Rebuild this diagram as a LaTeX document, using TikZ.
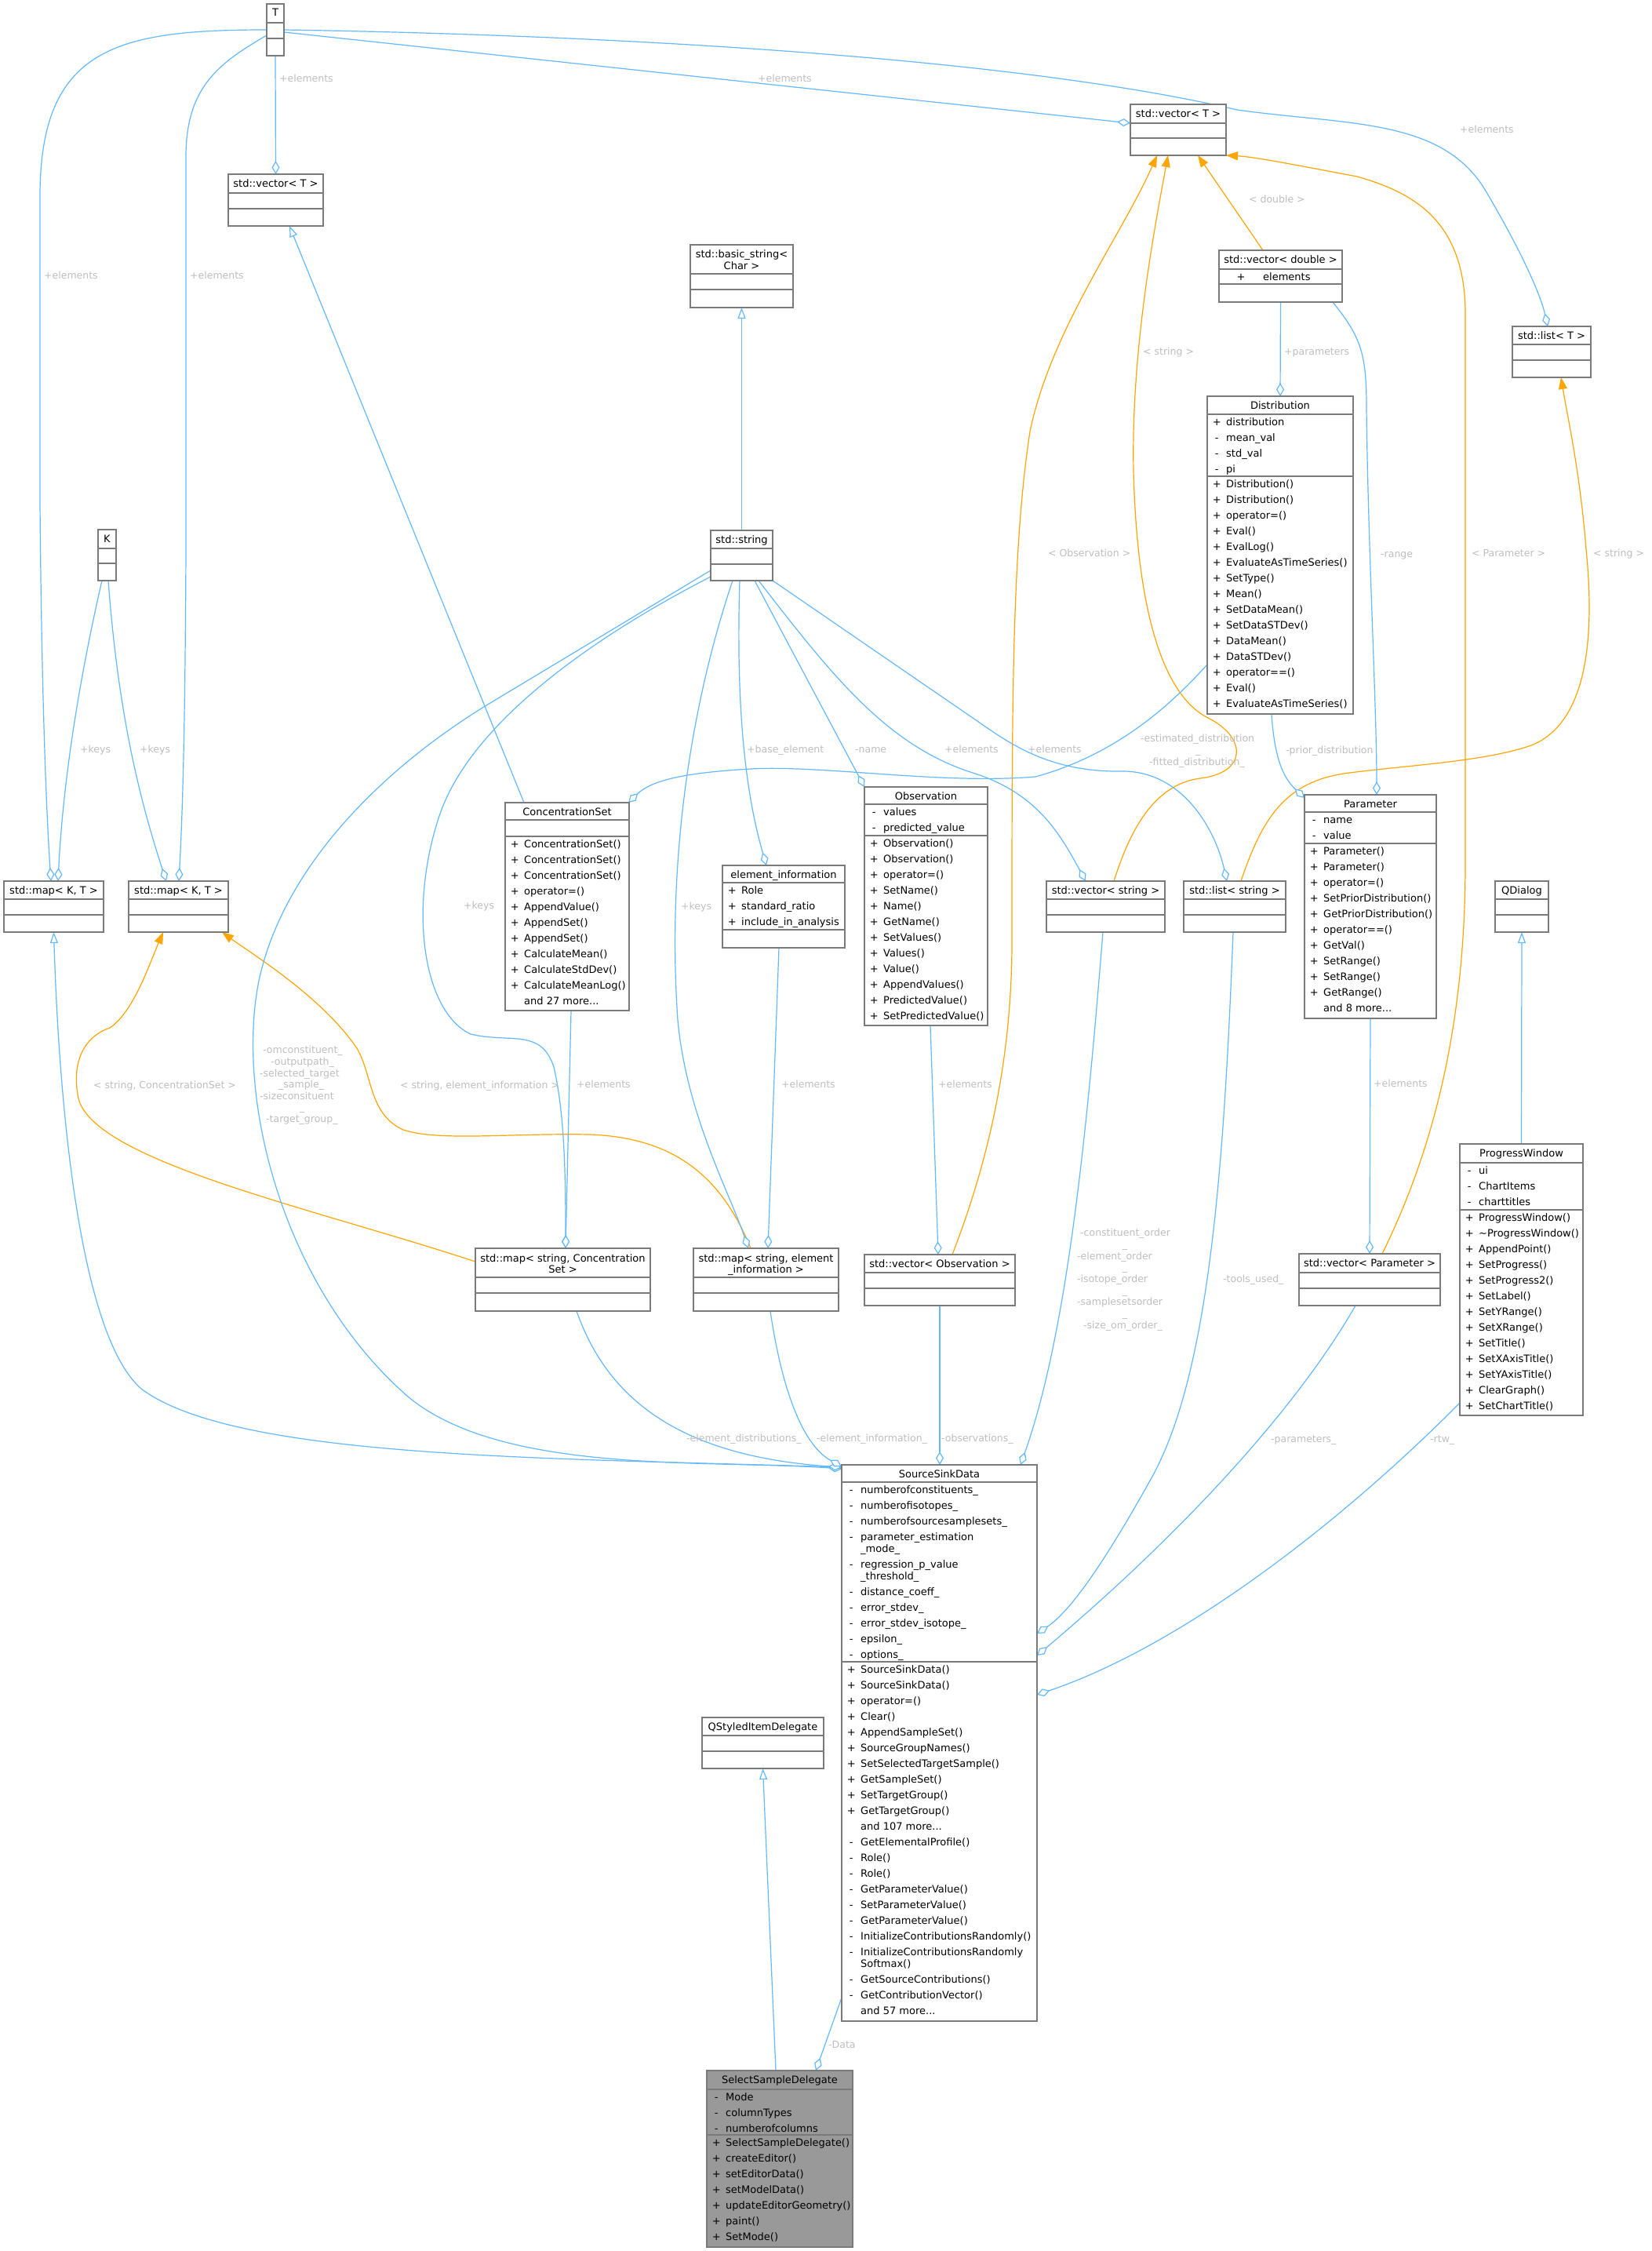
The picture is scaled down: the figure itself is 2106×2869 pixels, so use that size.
\documentclass[tikz,border=0pt]{standalone}
\usepackage{fontspec}
\setmainfont{DejaVu Sans}
\usetikzlibrary{arrows.meta,calc}
\pgfdeclarelayer{bg}
\pgfdeclarelayer{edges}
\pgfsetlayers{bg,edges,main}
\definecolor{eblue}{HTML}{63B8FF}
\definecolor{eorange}{HTML}{FFA500}
\definecolor{bgray}{HTML}{7A7A7A}
\definecolor{lgray}{HTML}{BEBEBE}
\definecolor{selfill}{HTML}{999999}
\tikzset{
  ubx/.style={draw=bgray, line width=1.5pt, fill=white, inner sep=0pt, outer sep=0pt},
  usep/.style={draw=bgray, line width=1.3pt},
  ttl/.style={font=\fontsize{13}{15}\selectfont, inner sep=0pt},
  mbx/.style={font=\fontsize{13}{20}\selectfont, inner sep=0pt, anchor=north west},
  lbl/.style={font=\fontsize{12.5}{15}\selectfont, text=lgray, inner sep=0pt},
  agg/.style={draw=eblue, line width=1.2pt, -{Diamond[fill=white, length=17pt, width=10pt]}},
  inh/.style={draw=eblue, line width=1.2pt, -{Triangle[fill=white, length=14pt, width=10pt]}},
  tpl/.style={draw=eorange, line width=1.2pt, -{Triangle[length=15pt, width=11pt]}}
}
\newcounter{lab}
\newcommand{\ubox}[9][]{%
  \node[ubx,#1,anchor=north west,minimum width={#5pt-#3pt},minimum height={#6pt-#4pt}] (#2) at (#3,#4) {};
  \draw[usep] (#3,#7) -- (#5,#7) (#3,#8) -- (#5,#8);
  \node[ttl,anchor=base] (#2-t) at ({(#3+#5)/2},{#4+16}) {#9};
}
\newcommand{\sg}[1]{\makebox[12pt][c]{#1}\hspace{6pt}}
\newcommand{\nsg}{\hspace{18pt}}
\newcommand{\mem}[3]{\stepcounter{lab}\node[mbx] (mem\arabic{lab}) at (#1,#2) {\begin{tabular}{@{}l@{}}#3\end{tabular}};}
\newcommand{\lb}[3]{\stepcounter{lab}\node[lbl,anchor=base west] (lab\arabic{lab}) at (#1,{#2+4.5}) {#3};}
\newcommand{\lc}[3]{\stepcounter{lab}\node[lbl,anchor=base] (lab\arabic{lab}) at (#1,{#2+4.5}) {#3};}
\begin{document}
\begin{tikzpicture}[x=1pt,y=-1pt]
\begin{pgfonlayer}{bg}
\fill[white] (0,0) rectangle (2106,2869);
\end{pgfonlayer}
\useasboundingbox (0,0) rectangle (2106,2869);

% ---------- classes ----------
\ubox{T}{340}{5}{362}{71}{29}{49}{T}
\ubox{K}{125}{675}{148}{740}{699}{718}{K}
\ubox{vecTL}{291}{222}{412}{288}{246}{266}{std::vector< T >}
\ubox{bstr}{880}{312}{1011}{392}{349}{369}{}
\node[ttl,anchor=base] (bstr-a) at (945.5,328) {std::basic\_string<};
\node[ttl,anchor=base] (bstr-b) at (945.5,343) {Char >};
\ubox{vecTR}{1441}{133}{1563}{198}{157}{176}{std::vector< T >}
\ubox{vecD}{1554}{319}{1711}{385}{343}{362}{std::vector< double >}
\node[mbx,anchor=base] (vecD-p) at (1582,357) {+};
\node[mbx,anchor=base west] (vecD-e) at (1610,357) {elements};
\ubox{listT}{1928}{416}{2028}{481}{439}{459}{std::list< T >}
\ubox{dist}{1539}{505}{1725}{910}{528}{607}{Distribution}
\mem{1545}{528}{\sg{+}distribution\\\sg{-}mean\_val\\\sg{-}std\_val\\\sg{-}pi}
\mem{1545}{607}{\sg{+}Distribution()\\\sg{+}Distribution()\\\sg{+}operator=()\\\sg{+}Eval()\\\sg{+}EvalLog()\\\sg{+}EvaluateAsTimeSeries()\\\sg{+}SetType()\\\sg{+}Mean()\\\sg{+}SetDataMean()\\\sg{+}SetDataSTDev()\\\sg{+}DataMean()\\\sg{+}DataSTDev()\\\sg{+}operator==()\\\sg{+}Eval()\\\sg{+}EvaluateAsTimeSeries()}
\ubox{str}{906}{676}{985}{740}{699}{719}{std::string}
\ubox{cset}{644}{1023}{802}{1288}{1045}{1066}{ConcentrationSet}
\mem{650}{1066}{\sg{+}ConcentrationSet()\\\sg{+}ConcentrationSet()\\\sg{+}ConcentrationSet()\\\sg{+}operator=()\\\sg{+}AppendValue()\\\sg{+}AppendSet()\\\sg{+}AppendSet()\\\sg{+}CalculateMean()\\\sg{+}CalculateStdDev()\\\sg{+}CalculateMeanLog()\\\nsg and 27 more...}
\ubox{einfo}{921}{1103}{1077}{1208}{1125}{1185}{element\_information}
\mem{927}{1125}{\sg{+}Role\\\sg{+}standard\_ratio\\\sg{+}include\_in\_analysis}
\ubox{obs}{1102}{1003}{1259}{1307}{1025}{1065}{Observation}
\mem{1108}{1025}{\sg{-}values\\\sg{-}predicted\_value}
\mem{1108}{1065}{\sg{+}Observation()\\\sg{+}Observation()\\\sg{+}operator=()\\\sg{+}SetName()\\\sg{+}Name()\\\sg{+}GetName()\\\sg{+}SetValues()\\\sg{+}Values()\\\sg{+}Value()\\\sg{+}AppendValues()\\\sg{+}PredictedValue()\\\sg{+}SetPredictedValue()}
\ubox{vecS}{1334}{1123}{1485}{1188}{1146}{1166}{std::vector< string >}
\ubox{listS}{1509}{1123}{1639}{1188}{1146}{1166}{std::list< string >}
\ubox{param}{1663}{1013}{1831}{1298}{1035}{1075}{Parameter}
\mem{1669}{1035}{\sg{-}name\\\sg{-}value}
\mem{1669}{1075}{\sg{+}Parameter()\\\sg{+}Parameter()\\\sg{+}operator=()\\\sg{+}SetPriorDistribution()\\\sg{+}GetPriorDistribution()\\\sg{+}operator==()\\\sg{+}GetVal()\\\sg{+}SetRange()\\\sg{+}SetRange()\\\sg{+}GetRange()\\\nsg and 8 more...}
\ubox{qdlg}{1906}{1123}{1974}{1188}{1146}{1166}{QDialog}
\ubox{mapL}{5}{1123}{132}{1188}{1146}{1166}{std::map< K, T >}
\ubox{mapR}{164}{1123}{291}{1188}{1146}{1166}{std::map< K, T >}
\ubox{mapSCS}{606}{1591}{829}{1671}{1628}{1648}{}
\node[ttl,anchor=base] (mapSCS-a) at (717.5,1608) {std::map< string, Concentration};
\node[ttl,anchor=base] (mapSCS-b) at (717.5,1622) {Set >};
\ubox{mapSEI}{884}{1591}{1069}{1671}{1628}{1648}{}
\node[ttl,anchor=base] (mapSEI-a) at (976.5,1608) {std::map< string, element};
\node[ttl,anchor=base] (mapSEI-b) at (976.5,1622) {\_information >};
\ubox{vecObs}{1102}{1599}{1294}{1664}{1622}{1642}{std::vector< Observation >}
\ubox{vecP}{1656}{1598}{1836}{1664}{1622}{1642}{std::vector< Parameter >}
\ubox{pw}{1861}{1458}{2018}{1804}{1482}{1542}{ProgressWindow}
\mem{1867}{1482}{\sg{-}ui\\\sg{-}ChartItems\\\sg{-}charttitles}
\mem{1867}{1542}{\sg{+}ProgressWindow()\\\sg{+}\textasciitilde ProgressWindow()\\\sg{+}AppendPoint()\\\sg{+}SetProgress()\\\sg{+}SetProgress2()\\\sg{+}SetLabel()\\\sg{+}SetYRange()\\\sg{+}SetXRange()\\\sg{+}SetTitle()\\\sg{+}SetXAxisTitle()\\\sg{+}SetYAxisTitle()\\\sg{+}ClearGraph()\\\sg{+}SetChartTitle()}
\ubox{ssd}{1073}{1867}{1322}{2576}{1889}{2118}{SourceSinkData}
\mem{1079}{1889}{\sg{-}numberofconstituents\_\\\sg{-}numberofisotopes\_\\\sg{-}numberofsourcesamplesets\_\\\sg{-}parameter\_estimation\\[-5pt]\nsg\_mode\_\\\sg{-}regression\_p\_value\\[-5pt]\nsg\_threshold\_\\\sg{-}distance\_coeff\_\\\sg{-}error\_stdev\_\\\sg{-}error\_stdev\_isotope\_\\\sg{-}epsilon\_\\\sg{-}options\_}
\mem{1079}{2118}{\sg{+}SourceSinkData()\\\sg{+}SourceSinkData()\\\sg{+}operator=()\\\sg{+}Clear()\\\sg{+}AppendSampleSet()\\\sg{+}SourceGroupNames()\\\sg{+}SetSelectedTargetSample()\\\sg{+}GetSampleSet()\\\sg{+}SetTargetGroup()\\\sg{+}GetTargetGroup()\\\nsg and 107 more...\\\sg{-}GetElementalProfile()\\\sg{-}Role()\\\sg{-}Role()\\\sg{-}GetParameterValue()\\\sg{-}SetParameterValue()\\\sg{-}GetParameterValue()\\\sg{-}InitializeContributionsRandomly()\\\sg{-}InitializeContributionsRandomly\\[-5pt]\nsg Softmax()\\\sg{-}GetSourceContributions()\\\sg{-}GetContributionVector()\\\nsg and 57 more...}
\ubox{qsid}{895}{2189}{1050}{2254}{2212}{2232}{QStyledItemDelegate}
\ubox[fill=selfill]{sel}{901}{2639}{1087}{2864}{2663}{2721}{SelectSampleDelegate}
\mem{907}{2663}{\sg{-}Mode\\\sg{-}columnTypes\\\sg{-}numberofcolumns}
\mem{907}{2721}{\sg{+}SelectSampleDelegate()\\\sg{+}createEditor()\\\sg{+}setEditorData()\\\sg{+}setModelData()\\\sg{+}updateEditorGeometry()\\\sg{+}paint()\\\sg{+}SetMode()}

% ---------- connectors ----------
\begin{pgfonlayer}{edges}
% from T
\draw[agg] (T.south) -- (vecTL.north);
\draw[agg] (T.west) .. controls (150,38) and (51,60) .. (51,250) -- (51,640) .. controls (53,900) and (60,1050) .. ($(mapL.north west)+(60,0)$);
\draw[agg] ($(T.north west)+(0,40)$) .. controls (280,80) and (237,110) .. (237,200) -- (237,700) .. controls (236,950) and (232,1050) .. ($(mapR.north west)+(64,0)$);
\draw[agg] ($(T.north east)+(0,36)$) -- ($(vecTR.north west)+(0,24)$);
\draw[agg] ($(T.north east)+(0,33)$) .. controls (800,45) and (1300,75) .. (1577,140) .. controls (1720,160) and (1840,150) .. (1895,245) .. controls (1945,330) and (1965,380) .. ($(listT.north west)+(45,0)$);
% from K
\draw[agg] ($(K.north west)+(5,65)$) .. controls (100,870) and (80,1000) .. ($(mapL.north west)+(69,0)$);
\draw[agg] ($(K.north west)+(13,65)$) .. controls (150,900) and (175,1010) .. ($(mapR.north west)+(48,0)$);
% inheritance
\draw[inh] ($(cset.north west)+(24,0)$) -- ($(vecTL.north west)+(78,66)$);
\draw[inh] (str.north) -- (bstr.south);
\draw[inh] (pw.north) -- (qdlg.south);
\draw[inh] ($(sel.north west)+(88,0)$) -- (qsid.south);
\draw[inh] ($(ssd.north west)+(0,3)$) .. controls (700,1858) and (300,1860) .. (180,1770) .. controls (100,1700) and (75,1400) .. (mapL.south);
% template instantiations
\draw[tpl] ($(vecD.north west)+(56,0)$) -- ($(vecTR.north west)+(86,65)$);
\draw[tpl] ($(vecS.north west)+(86,0)$) .. controls (1440,1060) and (1470,1000) .. (1530,992) .. controls (1590,985) and (1590,940) .. (1540,915) .. controls (1490,890) and (1450,800) .. (1445,600) .. controls (1442,450) and (1470,300) .. ($(vecTR.north west)+(48,65)$);
\draw[tpl] ($(vecObs.north west)+(112,0)$) .. controls (1260,1480) and (1290,1350) .. (1290,1200) .. controls (1290,900) and (1290,700) .. (1313,550) .. controls (1340,420) and (1430,300) .. ($(vecTR.north west)+(34,65)$);
\draw[tpl] ($(vecP.north west)+(106,0)$) .. controls (1830,1460) and (1868,1300) .. (1868,1100) -- (1868,400) .. controls (1868,280) and (1800,245) .. (1730,225) .. controls (1650,210) and (1600,200) .. (vecTR.south east);
\draw[tpl] ($(listS.north west)+(73,0)$) .. controls (1610,1040) and (1640,995) .. (1720,985) .. controls (1800,975) and (1895,970) .. (1952,950) .. controls (2028,920) and (2032,800) .. (2022,700) .. controls (2014,600) and (1998,530) .. ($(listT.north west)+(62,65)$);
\draw[tpl] ($(mapSCS.north west)+(0,17)$) .. controls (400,1540) and (120,1480) .. (100,1400) .. controls (90,1350) and (110,1320) .. (140,1310) .. controls (170,1290) and (190,1230) .. ($(mapR.north west)+(44,65)$);
\draw[tpl] ($(mapSEI.north west)+(73,0)$) .. controls (920,1500) and (860,1450) .. (752,1446) .. controls (650,1444) and (560,1455) .. (514,1440) .. controls (470,1420) and (475,1370) .. (455,1336) .. controls (410,1270) and (320,1215) .. ($(mapR.north west)+(119,65)$);
% aggregations
\draw[agg] (vecD.south) -- (dist.north);
\draw[agg] ($(vecD.north west)+(145,66)$) .. controls (1735,430) and (1742,450) .. (1742,520) .. controls (1744,700) and (1755,900) .. ($(param.north west)+(92,0)$);
\draw[agg] ($(dist.north west)+(82,405)$) .. controls (1625,975) and (1640,995) .. ($(param.north west)+(0,4)$);
\draw[agg] ($(dist.north west)+(0,342)$) .. controls (1500,890) and (1430,960) .. (1320,990) .. controls (1200,1000) and (1050,975) .. (957,980) .. controls (870,985) and (830,995) .. ($(cset.north west)+(157,0)$);
\draw[agg] ($(str.north west)+(37,64)$) .. controls (938,900) and (950,1010) .. ($(einfo.north west)+(56,0)$);
\draw[agg] ($(str.north west)+(56,64)$) -- (obs.north west);
\draw[agg] ($(str.north west)+(61,64)$) .. controls (1060,860) and (1130,950) .. (1240,985) .. controls (1320,1010) and (1350,1060) .. ($(vecS.north west)+(50,0)$);
\draw[agg] (str.south east) -- (1243,917) .. controls (1290,950) and (1340,985) .. (1434,983) .. controls (1510,985) and (1550,1060) .. ($(listS.north west)+(55,0)$);
\draw[agg] ($(str.north west)+(0,59)$) .. controls (760,810) and (600,920) .. (560,1040) .. controls (520,1160) and (540,1290) .. (600,1318) .. controls (650,1330) and (690,1310) .. (706,1360) .. controls (720,1420) and (721,1500) .. ($(mapSCS.north west)+(115,0)$);
\draw[agg] ($(str.north west)+(28,64)$) .. controls (880,900) and (850,1100) .. (864,1300) .. controls (875,1420) and (930,1520) .. ($(mapSEI.north west)+(70,0)$);
\draw[agg] ($(str.north west)+(0,51)$) -- (620,899) .. controls (480,985) and (360,1110) .. (330,1250) .. controls (300,1400) and (360,1640) .. (520,1780) .. controls (640,1880) and (900,1860) .. ($(ssd.north west)+(0,5)$);
\draw[agg] ($(cset.north west)+(84,265)$) -- ($(mapSCS.north west)+(115,0)$);
\draw[agg] ($(einfo.north west)+(72,105)$) -- ($(mapSEI.north west)+(95,0)$);
\draw[agg] ($(obs.north west)+(84,304)$) -- ($(vecObs.north west)+(94,0)$);
\draw[agg] (param.south) -- (vecP.north);
\draw[agg] ($(mapSCS.north west)+(129,80)$) .. controls (770,1770) and (850,1855) .. ($(ssd.north west)+(0,3)$);
\draw[agg] ($(mapSEI.north west)+(98,80)$) .. controls (995,1760) and (1020,1840) .. ($(ssd.north west)+(0,2)$);
\draw[agg] (vecObs.south) -- ($(ssd.north west)+(125,0)$);
\draw[agg] ($(vecS.north west)+(72,65)$) .. controls (1385,1450) and (1360,1700) .. ($(ssd.north west)+(228,0)$);
\draw[agg] ($(listS.north west)+(63,65)$) .. controls (1560,1500) and (1540,1750) .. (1470,1880) .. controls (1420,1970) and (1370,2050) .. ($(ssd.north west)+(249,215)$);
\draw[agg] ($(vecP.north west)+(72,66)$) .. controls (1650,1800) and (1500,1960) .. ($(ssd.north west)+(249,243)$);
\draw[agg] ($(pw.north west)+(0,330)$) .. controls (1700,1950) and (1500,2100) .. ($(ssd.north west)+(249,293)$);
\draw[agg] ($(ssd.north west)+(0,679)$) -- ($(sel.north west)+(139,0)$);
\end{pgfonlayer}

% ---------- connector labels ----------
\lb{356}{100}{+elements}
\lb{56}{351}{+elements}
\lb{242}{351}{+elements}
\lb{966}{100}{+elements}
\lb{1861}{165}{+elements}
\lb{102}{955}{+keys}
\lb{178}{955}{+keys}
\lb{1592}{254}{< double >}
\lb{1637}{448}{+parameters}
\lb{1457}{448}{< string >}
\lb{1336}{705}{< Observation >}
\lb{1876}{705}{< Parameter >}
\lb{2031}{705}{< string >}
\lb{1760}{706}{-range}
\lb{1639}{956}{-prior\_distribution}
\lb{952}{955}{+base\_element}
\lb{1090}{955}{-name}
\lb{1204}{955}{+elements}
\lb{1310}{955}{+elements}
\lb{1454}{941}{-estimated\_distribution}
\lc{1527}{956}{\_}
\lb{1465}{971}{-fitted\_distribution\_}
\lb{591}{1154}{+keys}
\lb{868}{1155}{+keys}
\lb{119}{1383}{< string, ConcentrationSet >}
\lb{510}{1383}{< string, element\_information >}
\lb{735}{1382}{+elements}
\lb{996}{1382}{+elements}
\lb{1196}{1382}{+elements}
\lb{1751}{1381}{+elements}
\lb{335}{1338}{-omconstituent\_}
\lb{345}{1353}{-outputpath\_}
\lb{331}{1368}{-selected\_target}
\lb{355}{1382}{\_sample\_}
\lb{331}{1397}{-sizeconsituent}
\lc{385}{1411}{\_}
\lb{339}{1426}{-target\_group\_}
\lb{1377}{1571}{-constituent\_order}
\lc{1434}{1586}{\_}
\lb{1373}{1601}{-element\_order}
\lc{1434}{1615}{\_}
\lb{1373}{1630}{-isotope\_order}
\lc{1434}{1645}{\_}
\lb{1373}{1659}{-samplesetsorder}
\lc{1434}{1674}{\_}
\lb{1381}{1689}{-size\_om\_order\_}
\lb{1559}{1630}{-tools\_used\_}
\lb{875}{1833}{-element\_distributions\_}
\lb{1041}{1833}{-element\_information\_}
\lb{1200}{1833}{-observations\_}
\lb{1620}{1834}{-parameters\_}
\lb{1823}{1834}{-rtw\_}
\lb{1056}{2606}{-Data}
\end{tikzpicture}
\end{document}
